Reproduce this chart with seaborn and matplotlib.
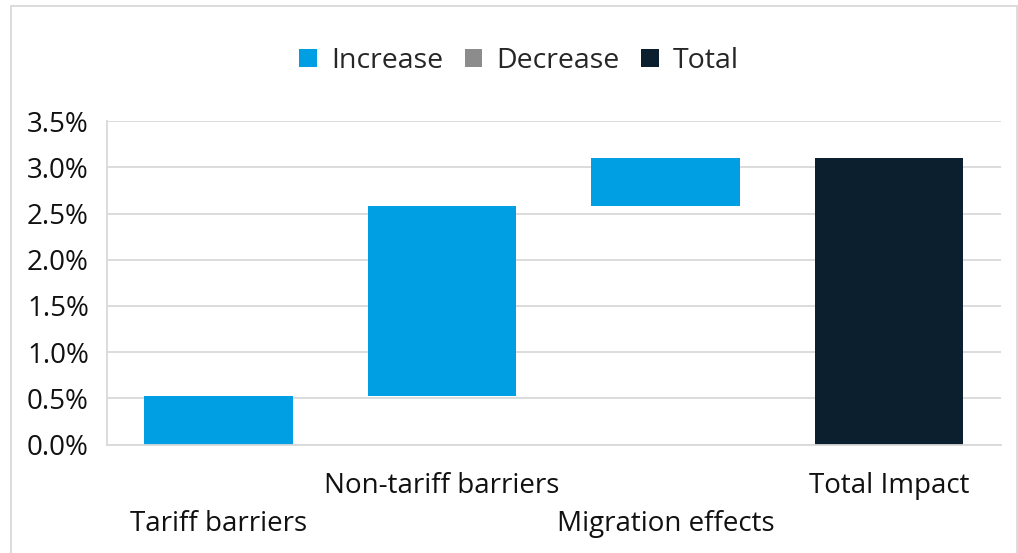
import numpy as np
import pandas as pd
import matplotlib
matplotlib.use("Agg")
import matplotlib.pyplot as plt
from matplotlib.patches import Patch, Rectangle
import seaborn as sns

# Contributions to the overall impact (percent)
categories = ["Tariff barriers", "Non-tariff barriers", "Migration effects", "Total Impact"]
increases = [0.53, 2.05, 0.52]
total_impact = 3.10
kinds = ["Increase", "Increase", "Increase", "Total"]

colors = {"Increase": "#009FE3", "Decrease": "#8C8C8C", "Total": "#0C1F2E"}

sns.set_theme(style="white")
plt.rcParams["font.family"] = ["Open Sans", "DejaVu Sans"]

# Waterfall layout: each step starts where the previous one ended
bases = np.concatenate([[0.0], np.cumsum(increases)[:-1]])
df = pd.DataFrame({
    "category": categories,
    "value": list(increases) + [total_impact],
    "base": list(bases) + [0.0],
    "kind": kinds,
})

fig = plt.figure(figsize=(10.18, 5.53), dpi=100)
ax = fig.add_axes([0.105, 0.196, 0.878, 0.585])

for kind in ["Increase", "Total"]:
    sub = df[df["kind"] == kind]
    sns.barplot(data=sub, x="category", y="value", order=categories,
                color=colors[kind], saturation=1, width=0.665,
                bottom=sub["base"].to_numpy(), errorbar=None, ax=ax,
                linewidth=0)

ax.set_xlim(-0.5, 3.5)
ax.set_ylim(0, 3.5)
ax.set_yticks(np.arange(0, 3.51, 0.5))
ax.set_yticklabels([f"{v:.1f}%" for v in np.arange(0, 3.51, 0.5)])
ax.yaxis.grid(True, color="#D9D9D9", linewidth=1.3)
ax.set_axisbelow(True)
ax.set_xlabel("")
ax.set_ylabel("")

for side in ["top", "right"]:
    ax.spines[side].set_visible(False)
for side in ["left", "bottom"]:
    ax.spines[side].set_color("#D9D9D9")
    ax.spines[side].set_linewidth(1.3)

ax.tick_params(axis="y", length=0, pad=13, labelsize=20, labelcolor="#111111")
ax.tick_params(axis="x", length=0, labelsize=20, labelcolor="#111111")

# Stagger the category labels on two rows
for i, tick in enumerate(ax.xaxis.get_major_ticks()):
    tick.set_pad(47 if i % 2 == 0 else 20)

handles = [Patch(facecolor=colors[k], edgecolor="none") for k in ["Increase", "Decrease", "Total"]]
fig.legend(handles, ["Increase", "Decrease", "Total"], loc="center",
           bbox_to_anchor=(0.51, 0.89), ncol=3, frameon=False, fontsize=20.5,
           handlelength=0.62, handleheight=0.62, handletextpad=0.5,
           columnspacing=0.75)

# Light frame around the chart
fig.patches.append(Rectangle((11 / 1018, -0.05), 1006 / 1018, 1.05 - 6 / 553,
                             transform=fig.transFigure, fill=False,
                             edgecolor="#D9D9D9", linewidth=1.3))

fig.savefig("out.png", dpi=100)
